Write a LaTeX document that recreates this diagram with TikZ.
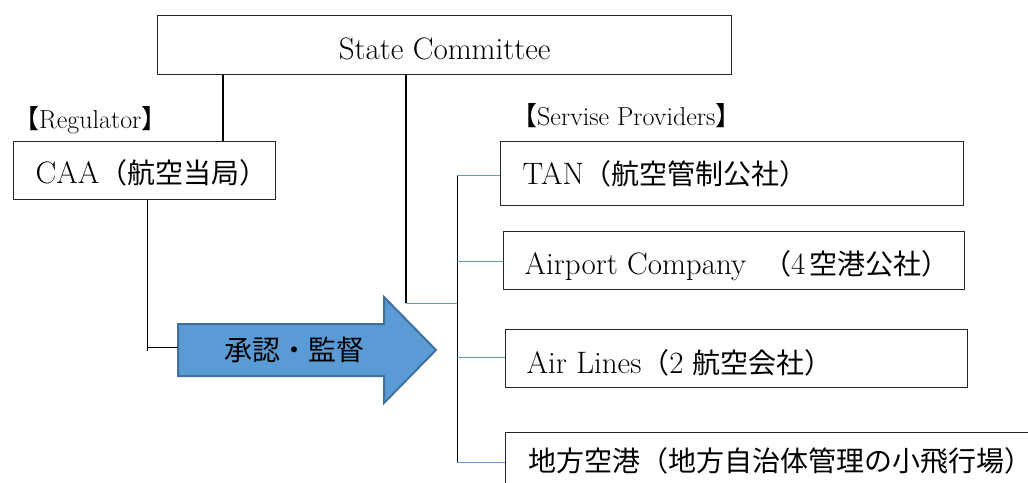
\documentclass[tikz,border=0pt]{standalone}
\usepackage{fontspec}
\newfontfamily\jp{Noto Sans CJK JP}
\newcommand\J[1]{{\jp\fontsize{28}{34}\selectfont #1}}
\newcommand\bxf{\fontsize{31}{36}\selectfont}
\newcommand\lbfont{\fontsize{26}{30}\selectfont}
\definecolor{lineblue}{HTML}{5B9BD5}
\definecolor{arrowedge}{HTML}{41719C}
\begin{document}
\begin{tikzpicture}[x=1pt,y=-1pt,
  box/.style={draw=black!85, line width=1.4pt, inner ysep=0pt, anchor=north west, font=\bxf, text depth=2pt},
  trunk/.style={line width=2.3pt, black},
  bus/.style={line width=1pt, black},
  branch/.style={line width=1pt, lineblue},
  lbl/.style={anchor=base west, inner sep=0pt, font=\lbfont},
  bigarrow/.style={fill=lineblue, draw=arrowedge, line width=2pt, line join=miter},
]
\useasboundingbox (0,0) rectangle (1028,482);
\clip (0,0) rectangle (1028,482);

% boxes
\node[box, minimum width=574pt, minimum height=59pt, inner xsep=0pt, text height=31pt] (sc) at (157,15) {State Committee};
\node[box, minimum width=262pt, minimum height=58pt, inner xsep=22pt, text height=28pt] (caa) at (13,141) {\makebox[218pt][l]{CAA\J{（航空当局）}}};
\node[box, minimum width=463pt, minimum height=64pt, inner xsep=22pt, text height=24pt] (tan) at (500,141) {\makebox[419pt][l]{TAN\J{（航空管制公社）}}};
\node[box, minimum width=461pt, minimum height=58pt, inner xsep=21pt, text height=30pt] (ap) at (503,231) {\makebox[419pt][l]{Airport Company\hspace{17pt}\J{（}4\kern4pt\J{空港公社）}}};
\node[box, minimum width=462pt, minimum height=58pt, inner xsep=21pt, text height=32pt] (al) at (505,329) {\makebox[420pt][l]{Air Lines\J{（}2\kern9pt\J{航空会社）}}};
\node[box, minimum width=600pt, minimum height=52pt, inner xsep=23pt, text height=28pt] (la) at (505,432) {\makebox[554pt][l]{\J{地方空港（地方自治体管理の小飛行場）}}};

% labels
\node[lbl] (reg) at (13,128) {{\jp 【}Regulator{\jp 】}};
\node[lbl] (sp) at (511,125) {{\jp 【}Servise Providers{\jp 】}};

% arrow
\draw[bigarrow] (178,324) -- (384,324) -- (384,297) -- (436,350) -- (384,403) -- (384,376) -- (178,376) -- cycle;
\node[inner sep=0pt] (appr) at (294.5,350) {\J{承認・監督}};

% coordinates
\coordinate (tail) at (178,347);
\coordinate (caadrop) at (147,351);
\coordinate (x1) at (223,0);
\coordinate (x2) at (406,303);
\coordinate (busx) at (457,0);

% connectors
\draw[trunk] (sc.south -| x1) -- (caa.north -| x1);
\draw[trunk] (sc.south -| x2) -- (x2);
\draw[branch] (x2) -- (x2 -| busx);
\draw[bus] (caa.south -| caadrop) -- (caadrop);
\draw[bus] (tail -| caadrop) -- (tail);
\draw[bus] ([yshift=-2pt]tan.west -| busx) -- ([yshift=-4pt]la.west -| busx);
\foreach \n/\d in {tan/-2,ap/-1,al/1,la/-4}
  \draw[branch] ([yshift=\d pt]\n.west -| busx) -- ([yshift=\d pt]\n.west);
\end{tikzpicture}
\end{document}
